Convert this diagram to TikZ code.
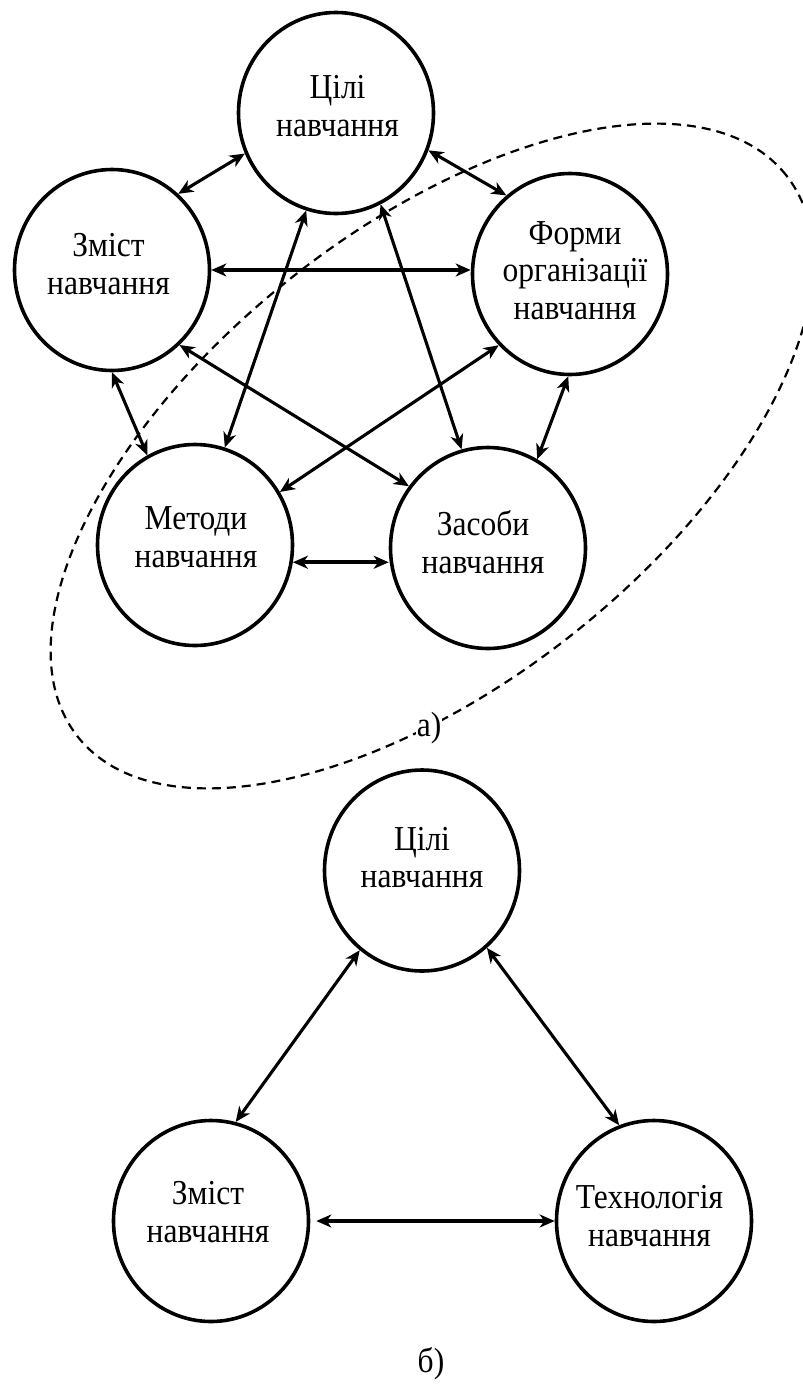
\documentclass[tikz,border=0pt]{standalone}
\usepackage{fontspec}
\setmainfont{Liberation Serif}[FakeStretch=0.9]
\usetikzlibrary{arrows.meta,shapes.geometric}
\begin{document}
\begin{tikzpicture}[x=1pt,y=-1pt,
  blob/.style={draw, line width=3.6pt, ellipse, minimum width=195pt, minimum height=201pt, inner sep=0pt},
  lbl/.style={align=center, font=\fontsize{35}{37.5}\selectfont, inner sep=0pt},
  link/.style={line width=3.1pt, {Stealth[length=15pt,width=13pt,inset=4.5pt]}-{Stealth[length=15pt,width=13pt,inset=4.5pt]}},
  hlink/.style={link, line width=3.9pt},
  contour/.style={line width=2.2pt, dash pattern=on 9pt off 6pt},
  caption/.style={font=\fontsize{35}{37.5}\selectfont, inner sep=0pt}]
\path[use as bounding box] (0,0) rectangle (803,1385);
\clip (0,0) rectangle (803,1385);

% upper scheme: five components
\node[blob] (C) at (336,113) {};
\node[blob] (Z) at (112,270) {};
\node[blob] (F) at (570,274) {};
\node[blob] (M) at (195,545) {};
\node[blob] (S) at (488,548) {};

\node[lbl] (Ct) at (337.5,106.3) {Цілі\\навчання};
\node[lbl] (Zt) at (108.5,264.3) {Зміст\\навчання};
\node[lbl] (Ft) at (575,270.5) {Форми\\організації\\навчання};
\node[lbl] (Mt) at (196,537) {Методи\\навчання};
\node[lbl] (St) at (483,542) {Засоби\\навчання};

\draw[link] (Z.49) -- (C.204);
\draw[link] (C.338) -- (F.129);
\draw[hlink] (Z.east) -- (Z.east -| F.west);
\draw[link] (C.253) -- (M.73);
\draw[link] (C.296) -- (S.105);
\draw[link] (Z.270) -- (M.118);
\draw[link] (Z.312) -- (S.142);
\draw[link] (F.225) -- (M.32);
\draw[link] (F.269) -- (S.61);
\draw[hlink] (M.-10) -- (M.-10 -| S.west);

% dashed outline of the group
\coordinate (grp) at (432,456);
\draw[contour, rotate around={38.4:(grp)}] (grp) ellipse [x radius=452pt, y radius=227pt];
\node[caption, fill=white, inner sep=0.5pt] (capa) at (429,728) {а)};

% lower scheme: three components
\node[blob] (LC) at (422,870.5) {};
\node[blob] (LZ) at (211,1221) {};
\node[blob] (LT) at (654,1221) {};

\node[lbl] (LCt) at (422,857.6) {Цілі\\навчання};
\node[lbl] (LZt) at (208,1212.3) {Зміст\\навчання};
\node[lbl] (LTt) at (649.5,1216) {Технологія\\навчання};

\draw[link] (LC.232) -- (LZ.76);
\draw[link] (LC.310) -- (LT.110);
\draw[hlink] ([xshift=6pt]LZ.east) -- (LZ.east -| LT.west);

\node[caption] (capb) at (431,1363.5) {б)};
\end{tikzpicture}
\end{document}
